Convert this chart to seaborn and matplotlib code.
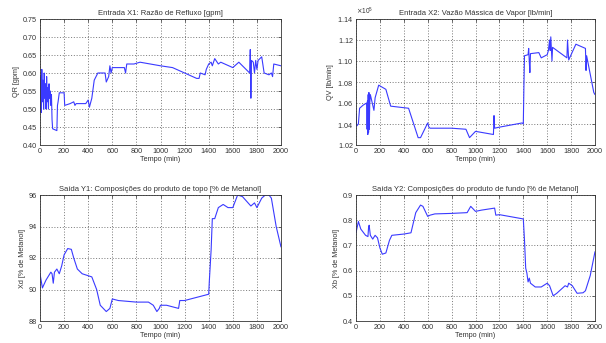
import numpy as np
import pandas as pd
import seaborn as sns
import matplotlib
matplotlib.use("Agg")
import matplotlib.pyplot as plt
from matplotlib.ticker import ScalarFormatter

# ---- Data ----
t_qr = [0, 5, 10, 15, 20, 25, 30, 35, 40, 45, 50, 55, 60, 65, 70, 75, 80, 85, 90, 95,
        100, 105, 140, 145, 150, 160, 170, 200, 205, 250, 280, 290, 300, 380, 400, 410,
        430, 450, 480, 540, 550, 570, 580, 590, 600, 700, 710, 720, 780, 830, 1000,
        1100, 1200, 1300, 1320, 1330, 1370, 1380, 1400, 1420, 1430, 1450, 1480, 1500,
        1600, 1650, 1740, 1745, 1750, 1755, 1770, 1780, 1790, 1800, 1810, 1840, 1860,
        1900, 1920, 1930, 1940, 2000]
qr = [0.50, 0.59, 0.49, 0.61, 0.52, 0.58, 0.50, 0.60, 0.53, 0.57, 0.50, 0.59, 0.52,
      0.56, 0.50, 0.57, 0.53, 0.55, 0.51, 0.54, 0.47, 0.445, 0.44, 0.51, 0.52, 0.545,
      0.545, 0.545, 0.51, 0.515, 0.52, 0.51, 0.515, 0.515, 0.525, 0.505, 0.53, 0.58,
      0.60, 0.60, 0.575, 0.59, 0.62, 0.60, 0.615, 0.615, 0.60, 0.625, 0.625, 0.63, 0.62,
      0.615, 0.60, 0.585, 0.585, 0.60, 0.595, 0.61, 0.625, 0.63, 0.62, 0.64, 0.625,
      0.63, 0.615, 0.63, 0.60, 0.665, 0.53, 0.635, 0.63, 0.60, 0.635, 0.61, 0.635,
      0.645, 0.60, 0.595, 0.60, 0.59, 0.625, 0.62]

t_qv = [0, 5, 20, 30, 60, 90, 93, 96, 99, 102, 105, 108, 111, 115, 120, 150, 160, 190,
        250, 290, 440, 520, 540, 600, 610, 620, 800, 920, 950, 1000, 1150, 1155, 1160,
        1200, 1390, 1400, 1405, 1410, 1440, 1445, 1450, 1455, 1460, 1530, 1550, 1600,
        1610, 1620, 1625, 1630, 1640, 1645, 1765, 1770, 1780, 1840, 1920, 1925, 1930,
        1990, 2000]
qv = [1.050, 1.038, 1.040, 1.055, 1.058, 1.060, 1.035, 1.062, 1.030, 1.068, 1.032,
      1.070, 1.035, 1.060, 1.068, 1.053, 1.065, 1.077, 1.073, 1.057, 1.055, 1.027,
      1.027, 1.041, 1.037, 1.036, 1.036, 1.035, 1.027, 1.033, 1.030, 1.048, 1.036,
      1.037, 1.041, 1.040, 1.075, 1.105, 1.106, 1.112, 1.100, 1.089, 1.107, 1.108,
      1.103, 1.106, 1.110, 1.120, 1.110, 1.123, 1.100, 1.113, 1.103, 1.120, 1.101,
      1.116, 1.112, 1.091, 1.105, 1.070, 1.068]
qv_scale = 1e5

t_xd = [0, 20, 50, 90, 100, 110, 120, 140, 160, 180, 200, 230, 260, 280, 310, 350, 430,
        470, 500, 550, 580, 600, 650, 800, 900, 940, 970, 990, 1000, 1050, 1150, 1160,
        1200, 1400, 1405, 1420, 1430, 1450, 1480, 1520, 1560, 1600, 1620, 1640, 1680,
        1750, 1780, 1800, 1840, 1870, 1900, 1920, 1960, 2000]
xd = [91.0, 90.1, 90.6, 91.1, 91.0, 90.4, 91.1, 91.3, 91.0, 91.5, 92.2, 92.6, 92.55,
      92.0, 91.3, 91.0, 90.8, 90.0, 89.0, 88.6, 88.8, 89.4, 89.3, 89.2, 89.2, 89.0,
      88.6, 88.8, 89.0, 89.0, 88.8, 89.3, 89.3, 89.7, 90.5, 92.5, 94.5, 94.5, 95.2,
      95.4, 95.2, 95.2, 95.6, 96.0, 95.9, 95.3, 95.5, 95.2, 95.8, 96.0, 96.0, 95.8,
      94.0, 92.7]

t_xb = [0, 20, 40, 80, 100, 105, 110, 120, 140, 160, 180, 200, 220, 250, 280, 300, 400,
        460, 500, 540, 560, 600, 620, 660, 800, 930, 960, 1000, 1050, 1160, 1170, 1200,
        1400, 1410, 1420, 1430, 1440, 1450, 1460, 1500, 1550, 1600, 1620, 1650, 1680,
        1750, 1770, 1780, 1810, 1850, 1900, 1920, 1960, 2000]
xb = [0.75, 0.795, 0.765, 0.74, 0.735, 0.77, 0.78, 0.74, 0.725, 0.74, 0.73, 0.69,
      0.665, 0.67, 0.72, 0.74, 0.745, 0.75, 0.83, 0.86, 0.855, 0.815, 0.82, 0.825,
      0.827, 0.83, 0.855, 0.835, 0.84, 0.848, 0.82, 0.822, 0.805, 0.72, 0.61, 0.59,
      0.555, 0.57, 0.55, 0.535, 0.535, 0.55, 0.54, 0.50, 0.51, 0.54, 0.535, 0.55,
      0.54, 0.51, 0.512, 0.52, 0.58, 0.675]

titles = ["Entrada X1: Razão de Refluxo [gpm]",
          "Entrada X2: Vazão Mássica de Vapor [lb/min]",
          "Saída Y1: Composições do produto de topo [% de Metanol]",
          "Saída Y2: Composições do produto de fundo [% de Metanol]"]
ylabels = ["QR [gpm]", "QV [lb/min]", "Xd [% de Metanol]", "Xb [% de Metanol]"]
xlabel = "Tempo (min)"

# ---- Plot ----
sns.set_style("white")
plt.rcParams["font.family"] = ["Liberation Sans", "DejaVu Sans"]
fs = 5.2

fig = plt.figure(figsize=(6.06, 3.43), dpi=100)
W, H = 606, 343
rects = [(40, 19, 281, 145), (356, 19, 595, 145), (40, 195, 281, 321), (356, 195, 595, 321)]
axes = [fig.add_axes([l / W, 1 - b / H, (r - l) / W, (b - t) / H]) for (l, t, r, b) in rects]

series = [(t_qr, qr, 1.0), (t_qv, qv, qv_scale), (t_xd, xd, 1.0), (t_xb, xb, 1.0)]
ylims = [(0.4, 0.75), (1.02 * qv_scale, 1.14 * qv_scale), (88, 96), (0.4, 0.9)]
yticks = [np.arange(0.4, 0.751, 0.05), np.arange(1.02, 1.141, 0.02) * qv_scale,
          np.arange(88, 96.1, 2), np.arange(0.4, 0.91, 0.1)]

for i, ax in enumerate(axes):
    tt, vv, sc = series[i]
    df = pd.DataFrame({"t": tt, "v": np.array(vv) * sc})
    sns.lineplot(data=df, x="t", y="v", ax=ax, color="#3a3aff", linewidth=0.8,
                 estimator=None, sort=False)
    ax.set_xlim(0, 2000)
    ax.set_ylim(*ylims[i])
    ax.set_xticks(np.arange(0, 2001, 200))
    ax.set_yticks(yticks[i])
    ax.grid(True, color="black", linestyle=(0, (1.5, 2.5)), linewidth=0.5, alpha=0.7)
    ax.tick_params(direction="in", length=2.5, width=0.5, labelsize=fs, pad=2,
                   colors="#333333", top=True, right=True)
    for s in ax.spines.values():
        s.set_linewidth(0.6)
        s.set_color("#333333")
    ax.set_title(titles[i], fontsize=fs + 0.3, pad=3, color="#333333")
    ax.set_xlabel(xlabel, fontsize=fs, labelpad=1, color="#333333")
    ax.set_ylabel(ylabels[i], fontsize=fs, labelpad=2, color="#333333")

fmt = ScalarFormatter(useMathText=True)
fmt.set_powerlimits((0, 0))
axes[1].yaxis.set_major_formatter(fmt)
axes[1].yaxis.get_offset_text().set_fontsize(fs - 0.5)
axes[1].yaxis.get_offset_text().set_color("#333333")
axes[1].set_ylim(1.02 * qv_scale, 1.14 * qv_scale)

fig.savefig("out.png", dpi=100)
